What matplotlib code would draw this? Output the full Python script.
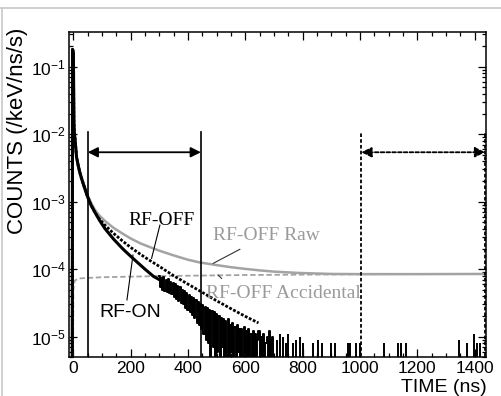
import numpy as np
import matplotlib.pyplot as plt
from matplotlib.lines import Line2D
from matplotlib.ticker import MultipleLocator, LogLocator, NullFormatter

plt.rcParams['font.family'] = 'Liberation Sans'
plt.rcParams['mathtext.fontset'] = 'custom'
plt.rcParams['mathtext.rm'] = 'Liberation Sans'
plt.rcParams['mathtext.default'] = 'regular'

# time in ns, counts in /keV/ns/s (0 = empty bin)
off_t = [-4, -3, 0, 1, 2, 3, 6, 11, 17, 23, 30, 38, 49, 61, 75, 90, 110, 140, 170, 200,
         235, 270, 300, 350, 400, 440, 500, 550, 600, 646]
off_v = [0, 0.18, 0.17, 0.05, 0.015, 0.011, 8.3e-3, 4.6e-3, 3.4e-3, 2.66e-3, 2.1e-3, 1.66e-3,
         1.2e-3, 9.0e-4, 6.9e-4, 5.6e-4, 4.5e-4, 3.4e-4, 2.65e-4, 2.1e-4, 1.65e-4, 1.32e-4,
         1.1e-4, 8.0e-5, 6.0e-5, 4.8e-5, 3.4e-5, 2.6e-5, 2.0e-5, 1.6e-5]

on_t = [-4, -3, 0, 1, 2, 3, 6, 11, 17, 23, 30, 38, 49, 61, 75, 90, 110, 140, 170, 190,
        220, 250, 280, 300]
on_v = [0, 0.18, 0.16, 0.05, 0.015, 0.011, 8.2e-3, 4.6e-3, 3.4e-3, 2.65e-3, 2.1e-3, 1.65e-3,
        1.2e-3, 9.0e-4, 7.0e-4, 5.4e-4, 4.0e-4, 2.8e-4, 2.05e-4, 1.7e-4, 1.3e-4, 1.0e-4,
        7.8e-5, 7.0e-5]

# RF-ON noisy part, 4 ns bins from 300 ns, in units of 1e-5
on_noise = [8.0, 5.4, 7.4, 5.0, 7.6, 4.8, 6.9, 4.6, 7.1, 4.4, 6.5,
            4.3, 6.3, 3.9, 6.0, 3.6, 5.6, 3.4, 5.4, 3.2, 5.0,
            3.0, 4.8, 2.7, 4.5, 2.5, 4.2, 2.3, 3.9, 2.1, 3.7,
            1.9, 3.5, 1.6, 3.3, 1.5, 3.1, 1.3, 2.9, 1.1, 2.8,
            0.9, 2.7, 0.8, 2.5, 0, 2.4, 0.7, 2.3, 0, 2.2,
            0.6, 2.0, 0, 1.9, 0.7, 1.8, 0, 1.7, 0, 1.8,
            0, 1.5, 0.6, 1.6, 0, 1.4, 0, 1.5, 0.6, 1.3,
            0, 1.3, 0, 1.4, 0.6, 1.2, 0, 1.3, 0, 1.1,
            0, 1.2, 0, 1.1, 0, 0.9, 1.2, 0, 1.0, 0,
            1.1, 0, 0.8, 1.0, 0, 1.2, 0, 0.9, 1.0, 0]
noise_t = np.arange(300, 701, 4)

# isolated counts in the tail, units of 1e-5
tail_t = [712, 721, 733, 741, 750, 767, 778, 790, 802, 837, 854, 868, 899, 912,
          958, 964, 985, 999, 1085, 1134, 1142, 1160, 1347, 1375, 1398, 1410, 1418]
tail_v = [0.9, 1.1, 1.0, 0.8, 1.1, 0.8, 0.9, 1.0, 0.8, 0.8, 0.9, 0.8, 0.8, 0.8,
          0.8, 0.8, 0.8, 0.8, 0.8, 0.8, 0.8, 0.8, 0.9, 0.8, 1.1, 0.8, 0.8]

raw_t = [-4, -3, 0, 1, 2, 3, 6, 11, 17, 23, 30, 38, 49, 61, 75, 90, 110, 140, 170, 200,
         235, 270, 300, 350, 400, 440, 500, 550, 600, 650, 700, 785, 900, 1000, 1200, 1440]
raw_v = [0, 0.18, 0.17, 0.05, 0.015, 0.011, 8.4e-3, 4.7e-3, 3.5e-3, 2.75e-3, 2.2e-3, 1.75e-3,
         1.27e-3, 9.8e-4, 7.6e-4, 6.3e-4, 5.2e-4, 4.1e-4, 3.4e-4, 2.85e-4, 2.4e-4, 2.1e-4,
         1.88e-4, 1.6e-4, 1.38e-4, 1.26e-4, 1.15e-4, 1.07e-4, 1.01e-4, 9.6e-5, 9.2e-5,
         8.8e-5, 8.5e-5, 8.45e-5, 8.45e-5, 8.5e-5]

acc_t = [-3, 0, 5, 20, 100, 300, 600, 1000, 1440]
acc_v = [0, 5e-5, 6.8e-5, 7.3e-5, 7.6e-5, 7.9e-5, 8.2e-5, 8.4e-5, 8.5e-5]

gate_on = [50, 445]
gate_acc = [1005, 1437]

FLOOR = 1e-7


def draw(v):
    v = np.asarray(v, dtype=float)
    return np.where(v > 0, v, FLOOR)


fig = plt.figure(figsize=(5.01, 3.96), dpi=100)
ax = fig.add_axes([68.5 / 501, 1 - 357 / 396, (486 - 68.5) / 501, (357 - 31.7) / 396])

gray = '#a3a3a3'
ax.plot(acc_t, draw(acc_v), color=gray, lw=1.3, ls=(0, (3, 1.5)))
ax.plot(raw_t, draw(raw_v), color=gray, lw=1.8)
ax.plot(off_t, draw(off_v), color='k', lw=2.0, ls=(0, (1, 0.6)))
ax.plot(on_t, draw(on_v), color='k', lw=2.2)
ax.plot(noise_t, draw(np.array(on_noise) * 1e-5), color='k', lw=1.4, drawstyle='steps-mid')
ax.vlines(tail_t, FLOOR, np.array(tail_v) * 1e-5, color='k', lw=1.4)

ax.set_xlim(-17, 1440)
ax.set_ylim(5e-6, 0.33)
ax.set_yscale('log')

# gates
ytop = 1.08e-2
yarr = 5.4e-3
for t in gate_on:
    ax.plot([t, t], [FLOOR, ytop], color='k', lw=1.2)
for t in gate_acc:
    ax.plot([t, t], [FLOOR, ytop], color='k', lw=1.3, ls=(0, (2, 1.2)))
ax.annotate('', xy=(gate_on[1], yarr), xytext=(gate_on[0], yarr),
            arrowprops=dict(arrowstyle='<|-|>', color='k', lw=1.3, mutation_scale=15,
                            shrinkA=0, shrinkB=0))
ax.annotate('', xy=(gate_acc[1], yarr), xytext=(gate_acc[0], yarr),
            arrowprops=dict(arrowstyle='<|-|>', color='k', lw=1.3, ls=(0, (2, 1.2)),
                            mutation_scale=15, shrinkA=0, shrinkB=0))

# labels with leader lines
ax.plot([302, 273], [4.5e-4, 1.45e-4], color='k', lw=0.8)
ax.plot([208, 187], [1.62e-4, 3.5e-5], color='k', lw=0.8)
ax.plot([581, 488], [1.97e-4, 1.22e-4], color='#333333', lw=0.8)
ax.plot([505, 517], [8.2e-5, 7.3e-5], color='#333333', lw=0.8)
ax.text(309, 4.52e-4, 'RF-OFF', family='Liberation Serif', fontsize=14, ha='center', va='baseline')
ax.text(197, 1.95e-5, 'RF-ON', fontsize=14, ha='center', va='baseline')
ax.text(674, 2.75e-4, 'RF-OFF Raw', family='Liberation Serif', fontsize=14, color='#9a9a9a',
        ha='center', va='baseline')
ax.text(733, 3.74e-5, 'RF-OFF Accidental', family='Liberation Serif', fontsize=14,
        color='#9a9a9a', ha='center', va='baseline')

ax.xaxis.set_major_locator(MultipleLocator(200))
ax.xaxis.set_minor_locator(MultipleLocator(50))
ax.yaxis.set_major_locator(LogLocator(base=10))
ax.yaxis.set_minor_locator(LogLocator(base=10, subs=np.arange(2, 10), numticks=20))
ax.yaxis.set_minor_formatter(NullFormatter())
ax.tick_params(which='both', direction='in', top=True, right=True, labelsize=12.5, width=0.9)
ax.tick_params(which='major', length=6)
ax.tick_params(which='minor', length=3)
ax.tick_params(axis='y', pad=2)
ax.tick_params(axis='x', pad=3)
for s in ax.spines.values():
    s.set_linewidth(1.1)

fig.text(18 / 501, 1 - 28 / 396, 'COUNTS (/keV/ns/s)', rotation=90, fontsize=16,
         ha='center', va='top')
fig.text(487 / 501, 1 - 391.5 / 396, 'TIME (ns)', fontsize=14, ha='right', va='baseline')

# frame around the figure
fig.add_artist(Line2D([0, 1], [1 - 8 / 396, 1 - 8 / 396], color='#c8c8c8', lw=1.2))
fig.add_artist(Line2D([1.5 / 501, 1.5 / 501], [0, 1 - 8 / 396], color='#c8c8c8', lw=1.2))

fig.savefig('out.png', dpi=100)
